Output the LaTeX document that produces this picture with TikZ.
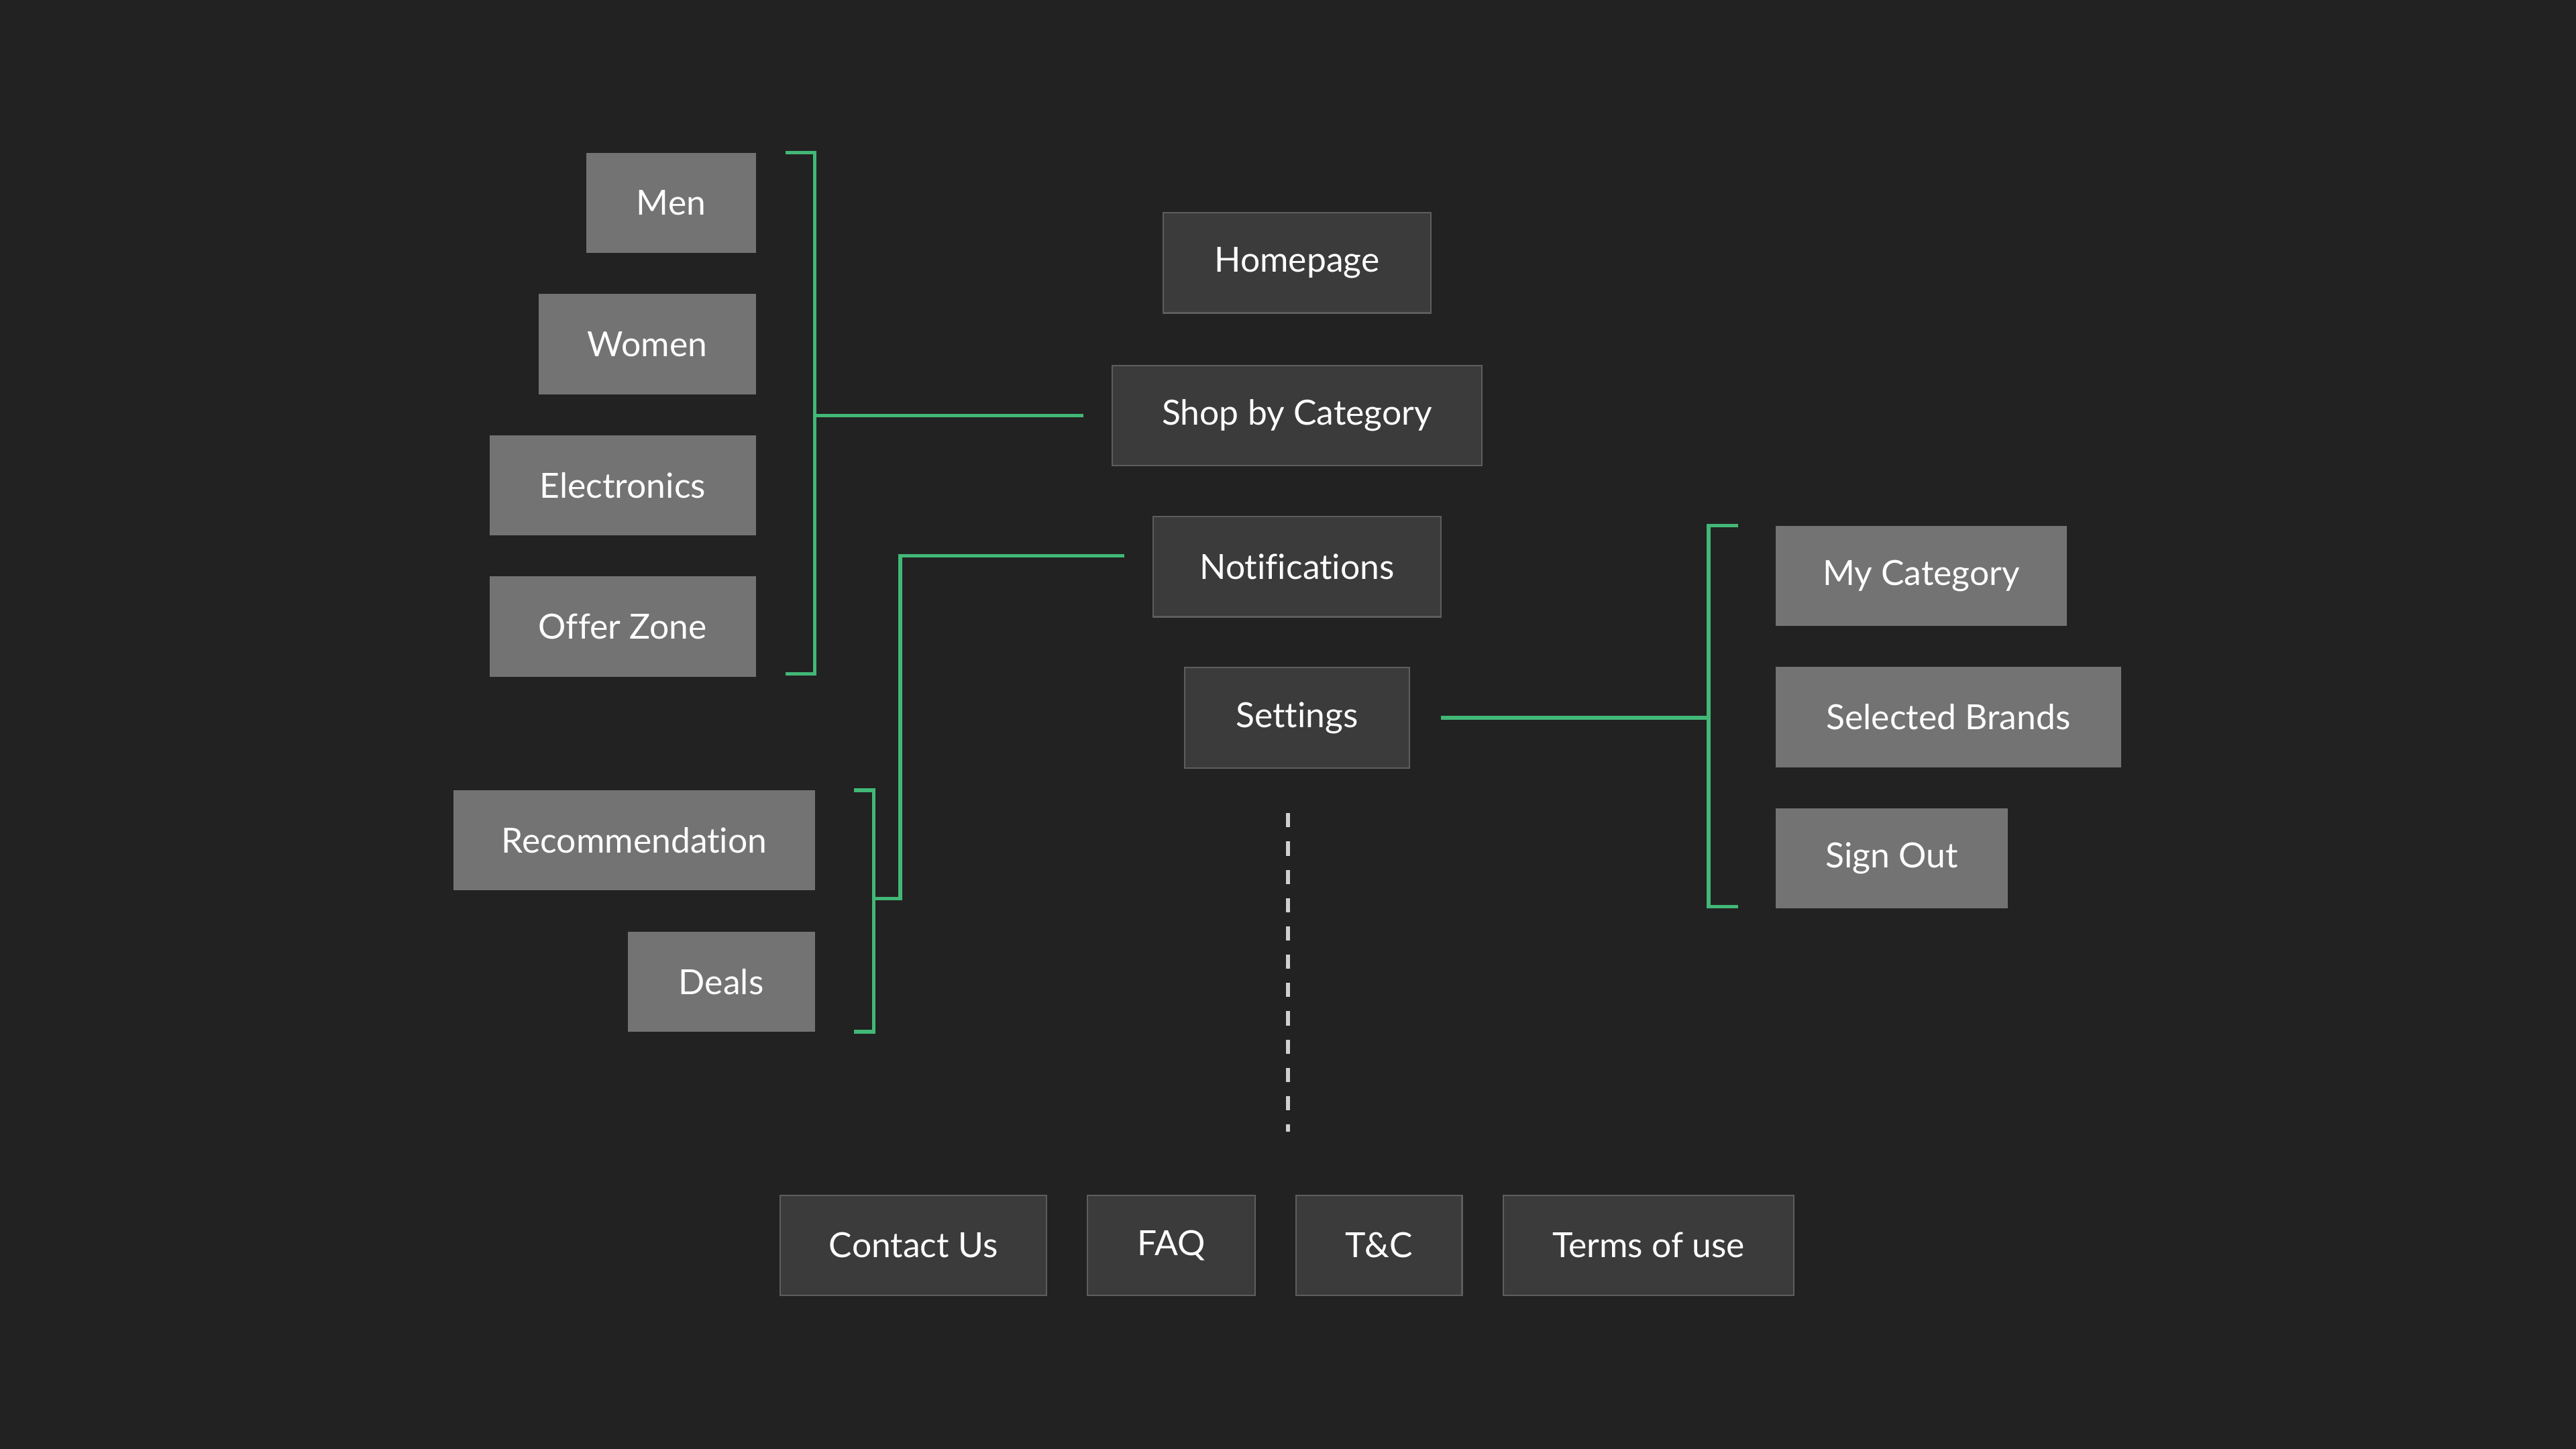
\documentclass[tikz,border=0pt]{standalone}
\usepackage{fontspec}
\setmainfont{Lato}[Ligatures=NoCommon]
\usetikzlibrary{positioning}
\definecolor{bg}{HTML}{222222}
\definecolor{pagegray}{HTML}{737373}
\definecolor{menugray}{HTML}{3B3B3B}
\definecolor{menuedge}{HTML}{5E5E5E}
\definecolor{linkgreen}{HTML}{42B877}
\definecolor{trailgray}{HTML}{D0D0D0}
\tikzstyle{page} = [fill=pagegray, text=white, minimum height=1.22cm,
inner xsep=0pt, outer sep=0pt, font=\fontsize{12}{14}\selectfont]
\tikzstyle{menu} = [page, fill=menugray, draw=menuedge, line width=0.5pt]
\tikzstyle{line} = [draw=linkgreen, line width=1.2pt]
\tikzstyle{trail} = [draw=trailgray, line width=1.5pt, dash pattern=on 4.9pt off 4.9pt]

\begin{document}
\begin{tikzpicture}[x=0.02cm, y=-0.02cm]
    \fill [bg] (0,0) rectangle (1568,882);
    %% Categories
    \node [page, minimum width=2.06cm, anchor=north east] (Men) at (460,93) {Men};
    \node [page, minimum width=2.64cm, below=0.5cm of Men.south east, anchor=north east] (Women) {Women};
    \node [page, minimum width=3.24cm, below=0.5cm of Women.south east, anchor=north east] (Elec) {Electronics};
    \node [page, minimum width=3.24cm, below=0.5cm of Elec.south east, anchor=north east] (Offer) {Offer Zone};
    \node [page, minimum width=4.4cm, anchor=north east] (Rec) at (496,481) {Recommendation};
    \node [page, minimum width=2.28cm, below=0.5cm of Rec.south east, anchor=north east] (Deals) {Deals};
    %% Main menu
    \node [menu, minimum width=3.26cm] (Home) at (789.5,160) {Homepage};
    \node [menu, minimum width=4.5cm, below=0.64cm of Home] (Shop) {Shop by Category};
    \node [menu, minimum width=3.5cm, below=0.62cm of Shop] (Notif) {Notifications};
    \node [menu, minimum width=2.74cm, below=0.62cm of Notif] (Set) {Settings};
    %% Account
    \node [page, minimum width=3.54cm, anchor=north west] (MyCat) at (1081,320) {My Category};
    \node [page, minimum width=4.2cm, below=0.5cm of MyCat.south west, anchor=north west] (Brands) {Selected Brands};
    \node [page, minimum width=2.82cm, below=0.5cm of Brands.south west, anchor=north west] (Out) {Sign Out};
    %% Footer
    \node [menu, minimum width=3.24cm] (Contact) at (556,758) {Contact Us};
    \node [menu, minimum width=2.04cm, right=0.5cm of Contact] (FAQ) {FAQ};
    \node [menu, minimum width=2.02cm, right=0.5cm of FAQ] (TC) {T\&C};
    \node [menu, minimum width=3.54cm, right=0.5cm of TC] (Terms) {Terms of use};
    %% Brackets
    \coordinate (catTop) at (478,93);
    \coordinate (catBot) at (478,410);
    \coordinate (catJoin) at (Shop.west -| 496,0);
    \coordinate (dealTop) at (520,481);
    \coordinate (dealBot) at (520,628);
    \coordinate (dealJoin) at (532,547);
    \coordinate (notifBend) at (548,547);
    \coordinate (acctTop) at (1058,320);
    \coordinate (acctBot) at (1058,552);
    \coordinate (acctJoin) at (Set.east -| 1040,0);
    \coordinate (trailTop) at (784,495);
    \coordinate (trailEnd) at (784,689);
    \path [line] (catTop) -| (catJoin) |- (catBot);
    \path [line, shorten >=0.35cm] (catJoin) -- (Shop.west);
    \path [line] (dealTop) -| (dealJoin) |- (dealBot);
    \path [line, shorten <=0.35cm] ([yshift=0.13cm]Notif.west) -| (notifBend) -- (dealJoin);
    \path [line] (acctTop) -| (acctJoin) |- (acctBot);
    \path [line, shorten <=0.38cm] (Set.east) -- (acctJoin);
    \path [trail] (trailTop) -- (trailEnd);
\end{tikzpicture}
\end{document}
